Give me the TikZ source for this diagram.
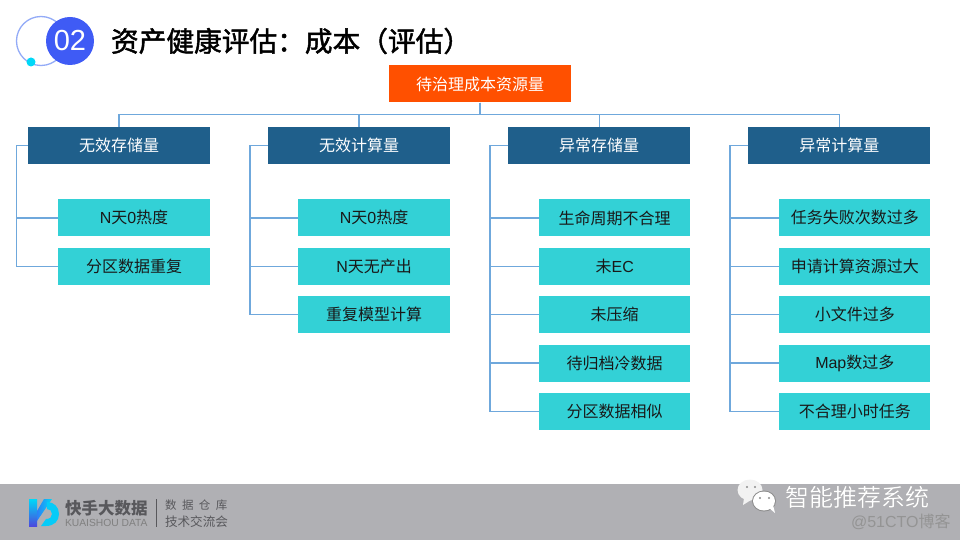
\documentclass[tikz,border=0pt]{standalone}
\usepackage{fontspec}
\setmainfont{Noto Sans CJK SC}
\newfontfamily\latfont{Liberation Sans}
\newfontfamily\headfont[FakeBold=1.6]{Noto Sans CJK SC}
\usetikzlibrary{arrows.meta, positioning, calc, shadings}
\definecolor{ksorange}{HTML}{FF5000}
\definecolor{ksnavy}{HTML}{1F5F8B}
\definecolor{kscyan}{HTML}{33D1D6}
\definecolor{kslink}{HTML}{6FA8DC}
\definecolor{ksband}{HTML}{B0B0B4}
\definecolor{ksblue}{HTML}{3F5BF5}
\definecolor{ksring}{HTML}{93ABF7}
\definecolor{ksdot}{HTML}{00D8F8}
\definecolor{ksgray}{HTML}{58585C}
\newcommand{\lat}[1]{{\latfont #1}}
\tikzset{
  rootbox/.style={rectangle, minimum width=182pt, minimum height=37pt, inner sep=0pt,
    fill=ksorange, text=white, font=\fontsize{16pt}{18pt}\selectfont},
  groupbox/.style={rectangle, minimum width=182pt, minimum height=37pt, inner sep=0pt,
    fill=ksnavy, text=white, font=\fontsize{16pt}{18pt}\selectfont},
  leafbox/.style={rectangle, minimum width=152pt, minimum height=37pt, inner sep=0pt,
    fill=kscyan, text=black!90, font=\fontsize{16pt}{18pt}\selectfont},
  arr/.style={line width=1.3pt, kslink},
  plain/.style={inner sep=0pt, outer sep=0pt},
}

\begin{document}
\begin{tikzpicture}[x=1pt, y=-1pt]
    \useasboundingbox (0,0) rectangle (960,540);
    % heading badge
    \draw[ksring, line width=1.3pt] (41,41) circle (24.5);
    \fill[ksblue] (70,41) circle (24);
    \fill[ksdot] (31,62) circle (4.5);
    \node[plain, text=white, font=\fontsize{29pt}{31pt}\latfont] (badge) at (70,41) {02};
    \node[plain, anchor=west, font=\fontsize{27.7pt}{30pt}\headfont] (title) at (111,41) {资产健康评估：成本（评估）};

    % tree
    \node[rootbox] (root) at (480,84) {待治理成本资源量};
    \node[groupbox] (grpa) at (119,145.5) {无效存储量};
    \node[groupbox, right=57.7pt of grpa] (grpb) {无效计算量};
    \node[groupbox, right=57.7pt of grpb] (grpc) {异常存储量};
    \node[groupbox, right=57.7pt of grpc] (grpd) {异常计算量};

    \node[leafbox, below=35pt of grpa.south east, anchor=north east] (a1) {\lat{N}天\lat{0}热度};
    \node[leafbox, below=11pt of a1] (a2) {分区数据重复};

    \node[leafbox, below=35pt of grpb.south east, anchor=north east] (b1) {\lat{N}天\lat{0}热度};
    \node[leafbox, below=11pt of b1] (b2) {\lat{N}天无产出};
    \node[leafbox, below=11pt of b2] (b3) {重复模型计算};

    \node[leafbox, minimum width=151pt, below=35pt of grpc.south east, anchor=north east] (c1) {生命周期不合理};
    \node[leafbox, minimum width=151pt, below=11pt of c1] (c2) {未\lat{EC}};
    \node[leafbox, minimum width=151pt, below=11pt of c2] (c3) {未压缩};
    \node[leafbox, minimum width=151pt, below=11pt of c3] (c4) {待归档冷数据};
    \node[leafbox, minimum width=151pt, below=11pt of c4] (c5) {分区数据相似};

    \node[leafbox, minimum width=151pt, below=35pt of grpd.south east, anchor=north east] (d1) {任务失败次数过多};
    \node[leafbox, minimum width=151pt, below=11pt of d1] (d2) {申请计算资源过大};
    \node[leafbox, minimum width=151pt, below=11pt of d2] (d3) {小文件过多};
    \node[leafbox, minimum width=151pt, below=11pt of d3] (d4) {\lat{Map}数过多};
    \node[leafbox, minimum width=151pt, below=11pt of d4] (d5) {不合理小时任务};

    \foreach \g in {grpa,grpb,grpc,grpd}
      \draw[arr] (root.south) -- ++(0,12) -| (\g.north);
    \foreach \l in {a1,a2}
      \draw[arr] (grpa.west) -- ++(-11,0) |- (\l.west);
    \foreach \l in {b1,b2,b3}
      \draw[arr] (grpb.west) -- ++(-18,0) |- (\l.west);
    \foreach \l in {c1,c2,c3,c4,c5}
      \draw[arr] (grpc.west) -- ++(-18,0) |- (\l.west);
    \foreach \l in {d1,d2,d3,d4,d5}
      \draw[arr] (grpd.west) -- ++(-18,0) |- (\l.west);

    % footer band and logo
    \fill[ksband] (0,484) rectangle (960,540);
    \shade[top color=ksdot, bottom color=ksblue!80!violet]
      (29,499) -- (37,499) -- (37,526) -- (29,526) -- cycle;
    \shade[left color=ksblue!70!ksdot, right color=ksdot]
      (37,511) -- (44,499) -- (52,499) -- (37,521) -- cycle;
    \fill[ksdot!90!ksblue]
      (47,502) .. controls (54,502) and (59,507) .. (59,514) .. controls (59,521) and (54,526) .. (46,526)
      -- (41,526) -- (46,519) .. controls (50,519) and (52,517) .. (52,514)
      .. controls (52,511) and (50,509) .. (47,509) -- cycle;
    \node[plain, anchor=west, text=ksgray, font=\fontsize{16.5pt}{18pt}\selectfont\bfseries] (brand) at (65,508) {快手大数据};
    \node[plain, anchor=west, text=black!50, font=\fontsize{10.3pt}{12pt}\latfont] (brandlat) at (65,522.5) {KUAISHOU DATA};
    \draw[ksgray, line width=0.8pt] (156,499) -- (156,527);
    \node[plain, anchor=west, text=ksgray, font=\fontsize{11.5pt}{13pt}\selectfont] (meetup) at (165,505.5) {数\hspace{5.5pt}据\hspace{5.5pt}仓\hspace{5.5pt}库};
    \node[plain, anchor=west, text=ksgray, font=\fontsize{12.6pt}{14pt}\selectfont] (meetupb) at (165,521.5) {技术交流会};

    % account mark
    \fill[white!95!black] (750,490) ellipse (12.5 and 10.5);
    \fill[white!95!black] (744,498) -- (743,505) -- (751,500) -- cycle;
    \fill[black!45] (764,501) ellipse (12 and 10.5);
    \fill[white] (764,501) ellipse (11 and 9.5);
    \fill[white] (769,508) -- (775,513) -- (773,505) -- cycle;
    \fill[black!45] (747,487) circle (1.2) (755,487) circle (1.2) (760,498) circle (1.2) (769,498) circle (1.2);
    \node[plain, anchor=west, text=black!55, font=\fontsize{24pt}{26pt}\selectfont] (wxshadow) at (785.8,497.8) {智能推荐系统};
    \node[plain, anchor=west, text=white, font=\fontsize{24pt}{26pt}\selectfont] (wx) at (785,497) {智能推荐系统};
    \node[plain, anchor=west, text=black!42, font=\fontsize{16pt}{18pt}\selectfont] (mark) at (851,522) {\lat{@51CTO}博客};
  \end{tikzpicture}
\end{document}
